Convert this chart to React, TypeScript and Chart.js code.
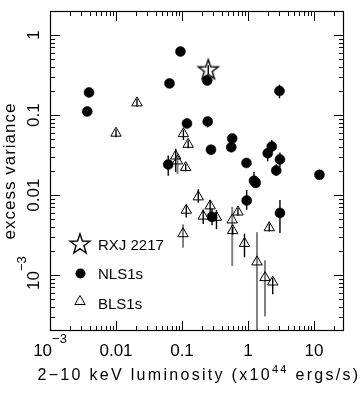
import React, { useEffect, useRef } from 'react';
import { Chart, registerables } from 'chart.js';

Chart.register(...registerables);

// ---------------- data ----------------
// NLS1s (filled circles)
const nlsLum = [0.0039, 0.00367, 0.0647, 0.0948, 0.2415, 3.0, 0.119, 0.245, 0.275, 0.577, 0.558, 0.948, 2.29, 1.99, 3.05, 2.68, 12.1, 1.233, 1.309, 0.955, 3.05, 0.285, 0.0619];
const nlsVar = [0.192, 0.111, 0.249, 0.622, 0.27, 0.2, 0.0785, 0.083, 0.037, 0.051, 0.0396, 0.0252, 0.0404, 0.0333, 0.0279, 0.0203, 0.0179, 0.0151, 0.0142, 0.00854, 0.00597, 0.00534, 0.0241];
const nlsErrLo: (number | null)[] = [null, null, null, null, null, 0.162, null, 0.07, null, null, null, null, 0.034, 0.0264, 0.0223, 0.0174, null, 0.0125, null, 0.00655, 0.00335, 0.00419, 0.0174];
const nlsErrHi: (number | null)[] = [null, null, null, null, null, 0.24, null, 0.093, null, null, null, null, 0.0489, 0.0402, 0.034, 0.0243, null, 0.0195, null, 0.0116, 0.00865, 0.00673, 0.0313];

// BLS1s (open triangles)
const blsLum = [0.0208, 0.01, 0.105, 0.124, 0.0804, 0.0855, 0.1137, 0.1766, 0.116, 0.267, 0.2094, 0.333, 0.705, 0.577, 0.586, 2.1, 0.1035, 0.885, 1.368, 1.81, 2.37];
const blsVar = [0.142, 0.0594, 0.0586, 0.0431, 0.0308, 0.0267, 0.0221, 0.00949, 0.00646, 0.00733, 0.00546, 0.00528, 0.00614, 0.00489, 0.0036, 0.00391, 0.00329, 0.00249, 0.00146, 0.00093, 0.00082];
const blsErrLo = [0.127, 0.053, 0.049, 0.0385, 0.0195, 0.0184, 0.0198, 0.008, 0.00524, 0.00569, 0.00434, 0.00375, 0.0055, 0.0013, 0.0032, 0.0035, 0.0022, 0.00167, 0.0001, 0.000304, 0.000578];
const blsErrHi = [0.159, 0.066, 0.066, 0.048, 0.038, 0.033, 0.0247, 0.0118, 0.00754, 0.00865, 0.0066, 0.00655, 0.0069, 0.00713, 0.004, 0.0044, 0.0043, 0.00329, 0.00344, 0.00153, 0.00093];

// RXJ 2217 (open star)
const rxjLum = [0.25];
const rxjVar = [0.37];
const rxjErrLo = [0.326];
const rxjErrHi = [0.419];

// axes
const xMin = 1e-3;
const xMax = 28.5;
const yMin = 2e-4;
const yMax = 2;
const xTickValues = [1e-3, 0.01, 0.1, 1, 10];
const xTickLabels = [['10', '−3'], ['0.01'], ['0.1'], ['1'], ['10']];
const yTickValues = [1e-3, 0.01, 0.1, 1];
const yTickLabels = [['10', '−3'], ['0.01'], ['0.1'], ['1']];
const xTitle = ['2−10 keV luminosity (x10', '44', ' ergs/s)'];
const yTitle = 'excess variance';
const legendLabels = ['RXJ 2217', 'NLS1s', 'BLS1s'];

// ---------------- styles ----------------
const FONT = '"Liberation Sans", Arial, Helvetica, sans-serif';
const GRAY_BAR = '#808080';
// indices of BLS1 points whose error bars are drawn in grey
const blsGrayBars = [5, 13, 16, 18, 19];

function makeStar(R: number, lw: number): HTMLCanvasElement {
  const c = document.createElement('canvas');
  const size = 26;
  c.width = size;
  c.height = size;
  const g = c.getContext('2d')!;
  g.translate(size / 2, size / 2 + 0.5);
  g.beginPath();
  for (let k = 0; k < 10; k++) {
    const r = k % 2 === 0 ? R : R * 0.4;
    const a = -Math.PI / 2 + (k * Math.PI) / 5;
    const px = r * Math.cos(a);
    const py = r * Math.sin(a);
    if (k === 0) g.moveTo(px, py);
    else g.lineTo(px, py);
  }
  g.closePath();
  g.lineWidth = lw;
  g.lineJoin = 'miter';
  g.strokeStyle = '#000';
  g.stroke();
  return c;
}

type Piece = { text: string; size: number; dy: number };

function drawRich(ctx: CanvasRenderingContext2D, pieces: Piece[], x: number, y: number, align: 'left' | 'center', spacing = 0) {
  const anyCtx = ctx as any;
  const widths = pieces.map((p) => {
    ctx.font = `${p.size}px ${FONT}`;
    anyCtx.letterSpacing = `${spacing}px`;
    return ctx.measureText(p.text).width;
  });
  const total = widths.reduce((a, b) => a + b, 0);
  let cx = align === 'center' ? x - total / 2 : x;
  ctx.textAlign = 'left';
  ctx.textBaseline = 'alphabetic';
  pieces.forEach((p, i) => {
    ctx.font = `${p.size}px ${FONT}`;
    anyCtx.letterSpacing = `${spacing}px`;
    ctx.fillText(p.text, cx, y + p.dy);
    cx += widths[i];
  });
  anyCtx.letterSpacing = '0px';
}

function labelPieces(parts: string[], size: number): Piece[] {
  const out: Piece[] = [{ text: parts[0], size, dy: 0 }];
  if (parts.length > 1) out.push({ text: parts[1], size: 13, dy: -13 });
  return out;
}

const decorPlugin = {
  id: 'decor',
  beforeDatasetsDraw(chart: any) {
    const ctx: CanvasRenderingContext2D = chart.ctx;
    const area = chart.chartArea;
    const ys = chart.scales.y;
    ctx.save();
    ctx.beginPath();
    ctx.rect(area.left, area.top, area.right - area.left, area.bottom - area.top);
    ctx.clip();
    chart.data.datasets.forEach((ds: any, di: number) => {
      const meta = chart.getDatasetMeta(di);
      if (!ds.errLo) return;
      meta.data.forEach((el: any, j: number) => {
        const lo = ds.errLo[j];
        const hi = ds.errHi[j];
        if (lo == null || hi == null) return;
        const gray = ds.grayBars && ds.grayBars.includes(j);
        ctx.strokeStyle = gray ? GRAY_BAR : '#000';
        ctx.lineWidth = gray ? 2 : 1.4;
        const y1 = ys.getPixelForValue(Math.max(lo, 1e-6));
        const y2 = ys.getPixelForValue(hi);
        ctx.beginPath();
        ctx.moveTo(el.x, y1);
        ctx.lineTo(el.x, y2);
        ctx.stroke();
      });
    });
    ctx.restore();
  },
  afterDraw(chart: any) {
    const ctx: CanvasRenderingContext2D = chart.ctx;
    const a = chart.chartArea;
    const xs = chart.scales.x;
    const ys = chart.scales.y;
    ctx.save();
    ctx.strokeStyle = '#000';
    ctx.fillStyle = '#000';
    ctx.lineWidth = 1.2;
    ctx.strokeRect(a.left + 0.5, a.top + 0.5, a.right - a.left - 1, a.bottom - a.top - 1);

    // ticks
    ctx.lineWidth = 1;
    ctx.beginPath();
    for (let d = -4; d <= 2; d++) {
      for (let m = 1; m <= 9; m++) {
        const v = m * Math.pow(10, d);
        const len = m === 1 ? 10 : 5;
        if (v > xMin * 1.001 && v < xMax / 1.001) {
          const px = Math.round(xs.getPixelForValue(v)) + 0.5;
          ctx.moveTo(px, a.bottom);
          ctx.lineTo(px, a.bottom - len);
          ctx.moveTo(px, a.top);
          ctx.lineTo(px, a.top + len);
        }
        if (v > yMin * 1.001 && v < yMax / 1.001) {
          const py = Math.round(ys.getPixelForValue(v)) + 0.5;
          ctx.moveTo(a.left, py);
          ctx.lineTo(a.left + len, py);
          ctx.moveTo(a.right, py);
          ctx.lineTo(a.right - len, py);
        }
      }
    }
    ctx.stroke();

    // x tick labels
    xTickValues.forEach((v, i) => {
      const px = xs.getPixelForValue(v);
      drawRich(ctx, labelPieces(xTickLabels[i], 17), px, a.bottom + 25, 'center');
    });
    // y tick labels (rotated)
    yTickValues.forEach((v, i) => {
      const py = ys.getPixelForValue(v);
      ctx.save();
      ctx.translate(a.left - 11.5, py);
      ctx.rotate(-Math.PI / 2);
      drawRich(ctx, labelPieces(yTickLabels[i], 17), yTickLabels[i].length > 1 ? 2 : 0, 0, 'center');
      ctx.restore();
    });

    // axis titles
    drawRich(
      ctx,
      [
        { text: xTitle[0], size: 16, dy: 0 },
        { text: xTitle[1], size: 11, dy: -7 },
        { text: xTitle[2], size: 16, dy: 0 },
      ],
      (a.left + a.right) / 2 + 2,
      a.bottom + 49,
      'center',
      2.3
    );
    ctx.save();
    ctx.translate(15, (a.top + a.bottom) / 2);
    ctx.rotate(-Math.PI / 2);
    drawRich(ctx, [{ text: yTitle, size: 17, dy: 0 }], 0, 0, 'center', 1);
    ctx.restore();

    // legend
    const lx = a.left + 30;
    const tx = a.left + 48;
    const star = chart.data.datasets[2].pointStyle as HTMLCanvasElement;
    const y0 = a.top + 233;
    ctx.drawImage(star, Math.round(lx - star.width / 2), Math.round(y0 - star.height / 2));
    drawRich(ctx, [{ text: legendLabels[0], size: 15, dy: 0 }], tx, y0 + 5.5, 'left');
    const y1 = a.top + 262.5;
    ctx.beginPath();
    ctx.arc(lx + 0.5, y1, 5, 0, Math.PI * 2);
    ctx.fill();
    drawRich(ctx, [{ text: legendLabels[1], size: 15, dy: 0 }], tx, y1 + 5.5, 'left');
    const y2 = a.top + 290.5;
    const r = 6;
    ctx.beginPath();
    ctx.moveTo(lx, y2 - r);
    ctx.lineTo(lx + r * Math.sin((2 * Math.PI) / 3), y2 - r * Math.cos((2 * Math.PI) / 3));
    ctx.lineTo(lx + r * Math.sin((4 * Math.PI) / 3), y2 - r * Math.cos((4 * Math.PI) / 3));
    ctx.closePath();
    ctx.lineWidth = 1;
    ctx.stroke();
    drawRich(ctx, [{ text: legendLabels[2], size: 15, dy: 0 }], tx, y2 + 7, 'left');
    ctx.restore();
  },
};

export default function App() {
  const ref = useRef<HTMLCanvasElement | null>(null);
  useEffect(() => {
    document.body.style.margin = '0';
    const canvas = ref.current!;
    const star = makeStar(10.5, 1.4);
    const chart = new Chart(canvas, {
      type: 'scatter',
      data: {
        datasets: [
          {
            label: legendLabels[2],
            data: blsLum.map((x, i) => ({ x, y: blsVar[i] })),
            pointStyle: 'triangle',
            pointRadius: 6,
            borderColor: '#000',
            backgroundColor: 'rgba(0,0,0,0)',
            borderWidth: 1,
            errLo: blsErrLo,
            errHi: blsErrHi,
            grayBars: blsGrayBars,
          } as any,
          {
            label: legendLabels[1],
            data: nlsLum.map((x, i) => ({ x, y: nlsVar[i] })),
            pointStyle: 'circle',
            pointRadius: 5,
            borderColor: '#000',
            backgroundColor: '#000',
            borderWidth: 0.5,
            errLo: nlsErrLo,
            errHi: nlsErrHi,
          } as any,
          {
            label: legendLabels[0],
            data: rxjLum.map((x, i) => ({ x, y: rxjVar[i] })),
            pointStyle: star,
            pointRadius: 10,
            errLo: rxjErrLo,
            errHi: rxjErrHi,
          } as any,
        ],
      },
      options: {
        animation: false,
        responsive: false,
        devicePixelRatio: 1,
        events: [],
        layout: { padding: { left: 50, top: 1, right: 18, bottom: 67 } },
        plugins: { legend: { display: false }, tooltip: { enabled: false } },
        scales: {
          x: {
            type: 'logarithmic',
            min: xMin,
            max: xMax,
            grid: { display: false, drawTicks: false },
            border: { display: false },
            ticks: { display: false },
            afterFit: (s: any) => {
              s.height = 0;
            },
          },
          y: {
            type: 'logarithmic',
            min: yMin,
            max: yMax,
            grid: { display: false, drawTicks: false },
            border: { display: false },
            ticks: { display: false },
            afterFit: (s: any) => {
              s.width = 0;
            },
          },
        },
      } as any,
      plugins: [decorPlugin],
    });
    return () => chart.destroy();
  }, []);
  return (
    <div style={{ position: 'absolute', left: 0, top: 0, width: 362, height: 398, background: '#fff' }}>
      <canvas ref={ref} width={362} height={398} />
    </div>
  );
}
